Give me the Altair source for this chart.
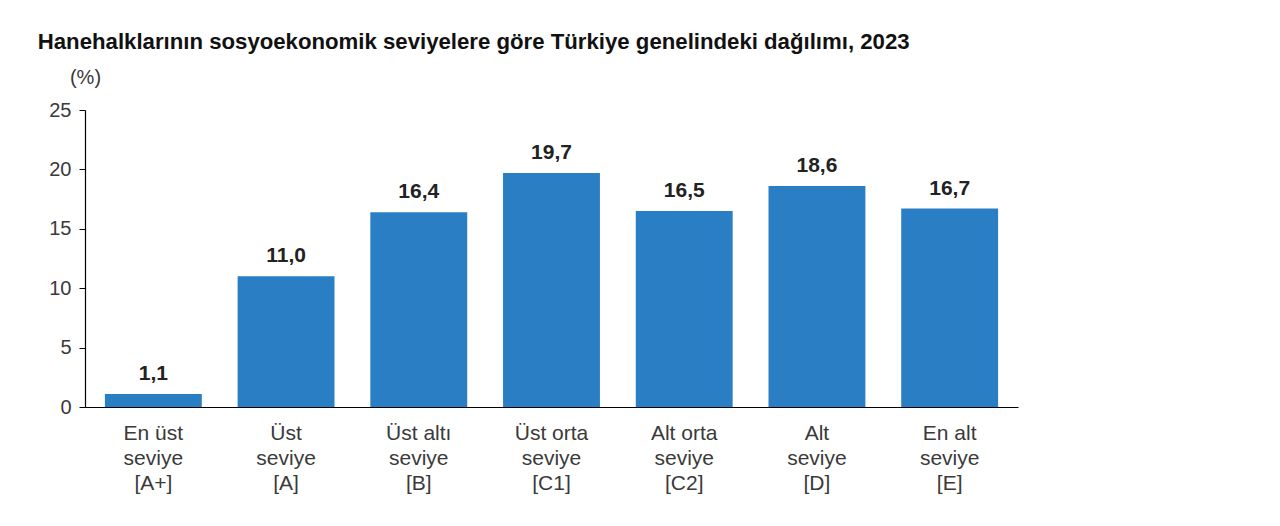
import altair as alt
import pandas as pd

categories = ["En üst\nseviye\n[A+]", "Üst\nseviye\n[A]", "Üst altı\nseviye\n[B]",
              "Üst orta\nseviye\n[C1]", "Alt orta\nseviye\n[C2]", "Alt\nseviye\n[D]",
              "En alt\nseviye\n[E]"]
values = [1.1, 11.0, 16.4, 19.7, 16.5, 18.6, 16.7]
labels = ["1,1", "11,0", "16,4", "19,7", "16,5", "18,6", "16,7"]

df = pd.DataFrame({"cat": categories, "val": values, "lab": labels})

FONT = "Liberation Sans"

base = alt.Chart(df).encode(
    x=alt.X("cat:N", sort=categories, title=None,
            scale=alt.Scale(paddingInner=0.27, paddingOuter=0.15),
            axis=alt.Axis(labelAngle=0, labelExpr="split(datum.label, '\\n')",
                          labelFont=FONT, labelFontSize=21, labelColor="#3a3a3a",
                          labelLineHeight=25, labelPadding=15, ticks=False,
                          domainColor="#000000", domainWidth=1.2,
                          labelBaseline="top")),
    y=alt.Y("val:Q", scale=alt.Scale(domain=[0, 25]),
            axis=alt.Axis(values=[0, 5, 10, 15, 20, 25], title="(%)",
                          titleAngle=0, titleX=0, titleY=-33, titleAlign="center",
                          titleBaseline="middle", titleFont=FONT, titleFontSize=20,
                          titleFontWeight="normal", titleColor="#3a3a3a",
                          labelFont=FONT, labelFontSize=20, labelColor="#3a3a3a",
                          labelPadding=8, tickSize=6, tickColor="#000000",
                          domainColor="#000000", domainWidth=1.2, grid=False)),
)

bars = base.mark_bar(color="#2a7ec3")
text = base.mark_text(dy=-10, font=FONT, fontSize=21, fontWeight="bold",
                      color="#222222", baseline="bottom").encode(text="lab:N")

chart = (bars + text).properties(
    width=933, height=297,
    background="white",
    title=alt.TitleParams(
        "Hanehalklarının sosyoekonomik seviyelere göre Türkiye genelindeki dağılımı, 2023",
        anchor="start", dx=-11, offset=14, font=FONT, fontSize=22.2,
        fontWeight="bold", color="#111111"),
    padding={"left": 77, "top": 102, "right": 10, "bottom": 110},
    autosize=alt.AutoSizeParams(type="none"),
).configure_view(strokeWidth=0, stroke="transparent")

chart.save("out.html", embed_options={"renderer": "svg", "actions": False})
